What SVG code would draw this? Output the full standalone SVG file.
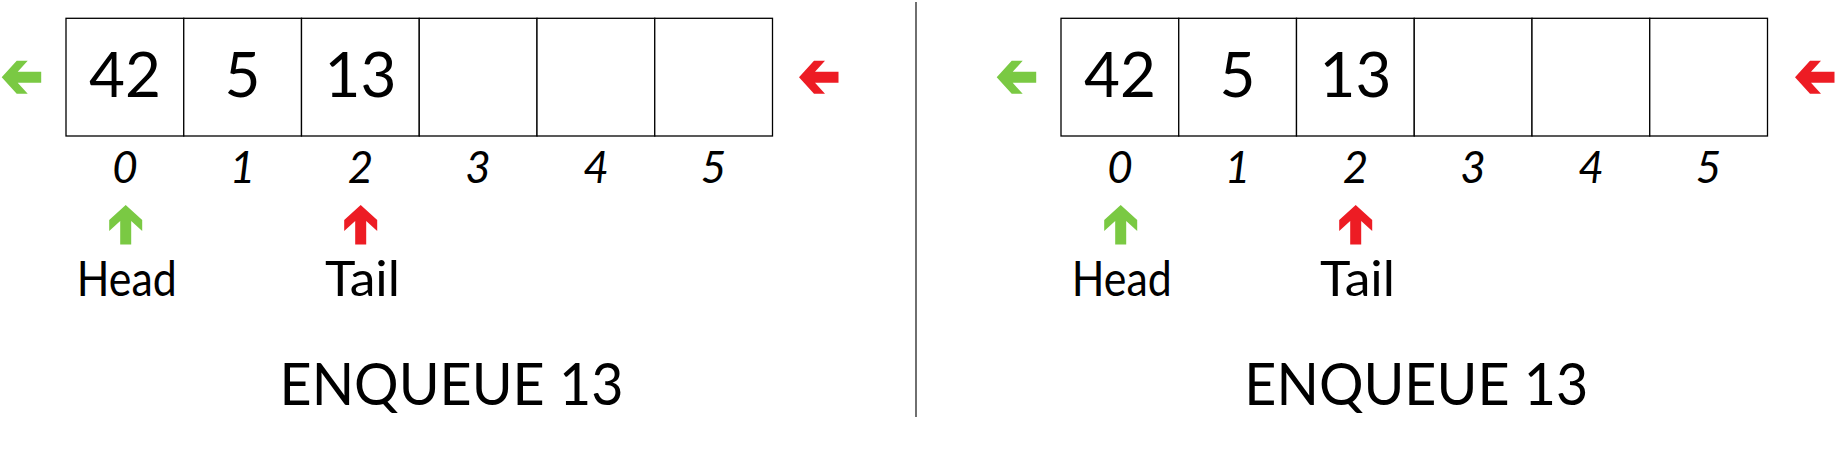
<svg xmlns="http://www.w3.org/2000/svg" xmlns:xlink="http://www.w3.org/1999/xlink" width="1835" height="458" viewBox="0 0 1835 458">
<style>
  .cell { fill: #ffffff; stroke: #000000; stroke-width: 1.3; }
  .val { font-family: Lato, Carlito, "Open Sans", sans-serif; font-size: 62px; fill: #000; text-anchor: middle; }
  .idx { font-family: Lato, Carlito, "Open Sans", sans-serif; font-size: 44px; font-style: italic; fill: #000; text-anchor: middle; }
  .lbl { font-family: Lato, Carlito, "Open Sans", sans-serif; font-size: 47.5px; fill: #000; text-anchor: middle; }
  .title { font-family: Lato, Carlito, "Open Sans", sans-serif; font-size: 58px; fill: #000; }
  .green { fill: #7AC943; }
  .red { fill: #ED1C24; }
  .sep { stroke: #222; stroke-width: 1.3; }
</style>
<defs>
  <path id="arrowL" d="M0,0 L15,-16.5 L26,-16.5 L16,-5.5 L39.5,-5.5 L39.5,5.5 L16,5.5 L26,16.5 L15,16.5 Z"/>
</defs>

<g id="separator">
  <line class="sep" x1="916" y1="2" x2="916" y2="417"/>
</g>

<g id="panel-left">
  <g id="left-array">
    <rect class="cell" x="66" y="18.3" width="117.75" height="117.7"/>
    <rect class="cell" x="183.75" y="18.3" width="117.75" height="117.7"/>
    <rect class="cell" x="301.5" y="18.3" width="117.75" height="117.7"/>
    <rect class="cell" x="419.25" y="18.3" width="117.75" height="117.7"/>
    <rect class="cell" x="537" y="18.3" width="117.75" height="117.7"/>
    <rect class="cell" x="654.75" y="18.3" width="117.75" height="117.7"/>
    <text class="val" x="124.9" y="96.8">42</text>
    <text class="val" x="242.6" y="96.8">5</text>
    <text class="val" x="360.4" y="96.8">13</text>
  </g>
  <g id="left-indices">
    <text class="idx" x="124.9" y="183">0</text>
    <text class="idx" x="242.6" y="183">1</text>
    <text class="idx" x="360.4" y="183">2</text>
    <text class="idx" x="478.1" y="183">3</text>
    <text class="idx" x="595.9" y="183">4</text>
    <text class="idx" x="713.6" y="183">5</text>
  </g>
  <g id="left-head">
    <use href="#arrowL" xlink:href="#arrowL" class="green" transform="translate(125.7,205) rotate(90)"/>
    <text class="lbl" x="126.7" y="295.5" textLength="100" lengthAdjust="spacingAndGlyphs">Head</text>
  </g>
  <g id="left-tail">
    <use href="#arrowL" xlink:href="#arrowL" class="red" transform="translate(360.7,205) rotate(90)"/>
    <text class="lbl" x="362.5" y="295.5" textLength="75" lengthAdjust="spacingAndGlyphs">Tail</text>
  </g>
  <g id="left-out-arrow">
    <use href="#arrowL" xlink:href="#arrowL" class="green" transform="translate(1.7,77.3)"/>
  </g>
  <g id="left-in-arrow">
    <use href="#arrowL" xlink:href="#arrowL" class="red" transform="translate(799,77.3)"/>
  </g>
  <g id="left-title">
    <text class="title" x="279.5" y="405" textLength="344" lengthAdjust="spacingAndGlyphs">ENQUEUE 13</text>
  </g>
</g>

<g id="panel-right">
  <g id="right-array">
    <rect class="cell" x="1061" y="18.3" width="117.75" height="117.7"/>
    <rect class="cell" x="1178.75" y="18.3" width="117.75" height="117.7"/>
    <rect class="cell" x="1296.5" y="18.3" width="117.75" height="117.7"/>
    <rect class="cell" x="1414.25" y="18.3" width="117.75" height="117.7"/>
    <rect class="cell" x="1532" y="18.3" width="117.75" height="117.7"/>
    <rect class="cell" x="1649.75" y="18.3" width="117.75" height="117.7"/>
    <text class="val" x="1119.9" y="96.8">42</text>
    <text class="val" x="1237.6" y="96.8">5</text>
    <text class="val" x="1355.4" y="96.8">13</text>
  </g>
  <g id="right-indices">
    <text class="idx" x="1119.9" y="183">0</text>
    <text class="idx" x="1237.6" y="183">1</text>
    <text class="idx" x="1355.4" y="183">2</text>
    <text class="idx" x="1473.1" y="183">3</text>
    <text class="idx" x="1590.9" y="183">4</text>
    <text class="idx" x="1708.6" y="183">5</text>
  </g>
  <g id="right-head">
    <use href="#arrowL" xlink:href="#arrowL" class="green" transform="translate(1120.7,205) rotate(90)"/>
    <text class="lbl" x="1121.7" y="295.5" textLength="100" lengthAdjust="spacingAndGlyphs">Head</text>
  </g>
  <g id="right-tail">
    <use href="#arrowL" xlink:href="#arrowL" class="red" transform="translate(1355.7,205) rotate(90)"/>
    <text class="lbl" x="1357.5" y="295.5" textLength="75" lengthAdjust="spacingAndGlyphs">Tail</text>
  </g>
  <g id="right-out-arrow">
    <use href="#arrowL" xlink:href="#arrowL" class="green" transform="translate(996.7,77.3)"/>
  </g>
  <g id="right-in-arrow">
    <use href="#arrowL" xlink:href="#arrowL" class="red" transform="translate(1795,77.3)"/>
  </g>
  <g id="right-title">
    <text class="title" x="1244.3" y="405" textLength="344" lengthAdjust="spacingAndGlyphs">ENQUEUE 13</text>
  </g>
</g>
</svg>
